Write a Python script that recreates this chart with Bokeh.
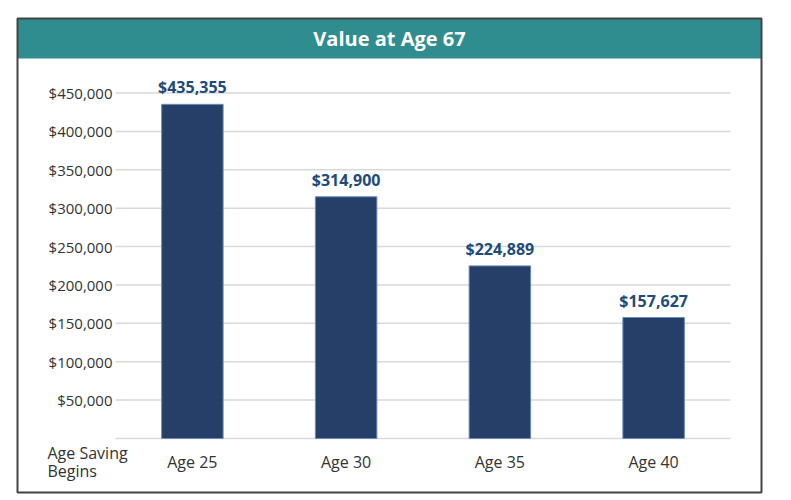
from bokeh.plotting import figure
from bokeh.models import Range1d, ColumnDataSource
from bokeh.core.properties import value
from bokeh.embed import file_html
from bokeh.resources import INLINE

# ---- data ----
title = "Value at Age 67"
categories = ["Age 25", "Age 30", "Age 35", "Age 40"]
values = [435355, 314900, 224889, 157627]
value_labels = ["$435,355", "$314,900", "$224,889", "$157,627"]
y_ticks = [50000, 100000, 150000, 200000, 250000, 300000, 350000, 400000, 450000]
y_tick_labels = ["$50,000", "$100,000", "$150,000", "$200,000", "$250,000",
                 "$300,000", "$350,000", "$400,000", "$450,000"]
x_axis_title = ["Age Saving", "Begins"]

FONT = "Open Sans"
W, H = 775, 496
# picture-pixel geometry (canvas appears at the picture origin)
PX0, PX1 = 0, W
PY0, PY1 = 0, H
plot_left, plot_right = 115, 730
y_zero, y_top_px, y_top_val = 438, 92.6, 450000
scale = (y_zero - y_top_px) / y_top_val
unit = (plot_right - plot_left) / len(categories)

x_start = -(plot_left - PX0) / unit
x_end = len(categories) + (PX1 - plot_right) / unit
y_start = -(PY1 - y_zero) / scale
y_end = (y_zero - PY0) / scale

p = figure(width=W, height=H, output_backend="svg", toolbar_location=None,
           x_range=Range1d(x_start, x_end), y_range=Range1d(y_start, y_end),
           x_axis_location=None, y_axis_location=None, min_border=0,
           outline_line_color=None, background_fill_color="white",
           border_fill_color="white")
p.grid.grid_line_color = None
p.extra_x_ranges = {"px": Range1d(PX0, PX1)}
p.extra_y_ranges = {"py": Range1d(PY1, PY0)}

# header band
p.quad(left=[17], right=[761], top=[18], bottom=[58], fill_color="#2f8c8f",
       line_color=None, x_range_name="px", y_range_name="py")
p.text(x=[389], y=[38], text=[title], text_color="white",
       text_font=value(FONT), text_font_style="bold", text_font_size="20px",
       text_align="center", text_baseline="middle",
       x_range_name="px", y_range_name="py")

# gridlines (including baseline)
grid_vals = [0] + y_ticks
p.segment(x0=[plot_left] * len(grid_vals), x1=[plot_right] * len(grid_vals),
          y0=grid_vals, y1=grid_vals, line_color="#d9d9d9", line_width=1.5,
          x_range_name="px")

# y tick labels
p.text(x=[112] * len(y_ticks), y=y_ticks, text=y_tick_labels,
       text_color="#333333", text_font=value(FONT), text_font_size="15px",
       text_align="right", text_baseline="middle", x_range_name="px")

# bars
xs = [i + 0.5 for i in range(len(categories))]
src = ColumnDataSource(dict(x=xs, top=values, lab=value_labels, cat=categories))
p.vbar(x="x", top="top", width=0.4, source=src, fill_color="#263f69",
       line_color="#6b8cbd", line_width=1)

# value labels
p.text(x="x", y="top", text="lab", source=src, text_color="#1d4b7c",
       text_font=value(FONT), text_font_style="bold", text_font_size="16px",
       text_align="center", text_baseline="bottom", y_offset=-6)

# category labels
p.text(x=xs, y=[461] * len(xs), text=categories, text_color="#333333",
       text_font=value(FONT), text_font_size="16px", text_align="center",
       text_baseline="middle", y_range_name="py")

# axis title
p.text(x=[47, 47], y=[452, 470], text=x_axis_title, text_color="#333333",
       text_font=value(FONT), text_font_size="16px", text_align="left",
       text_baseline="middle", x_range_name="px", y_range_name="py")

# outer border
p.quad(left=[17], right=[761], top=[18], bottom=[492], fill_color=None,
       line_color="#444444", line_width=2, x_range_name="px", y_range_name="py")

open("out.html", "w").write(file_html(p, INLINE))
